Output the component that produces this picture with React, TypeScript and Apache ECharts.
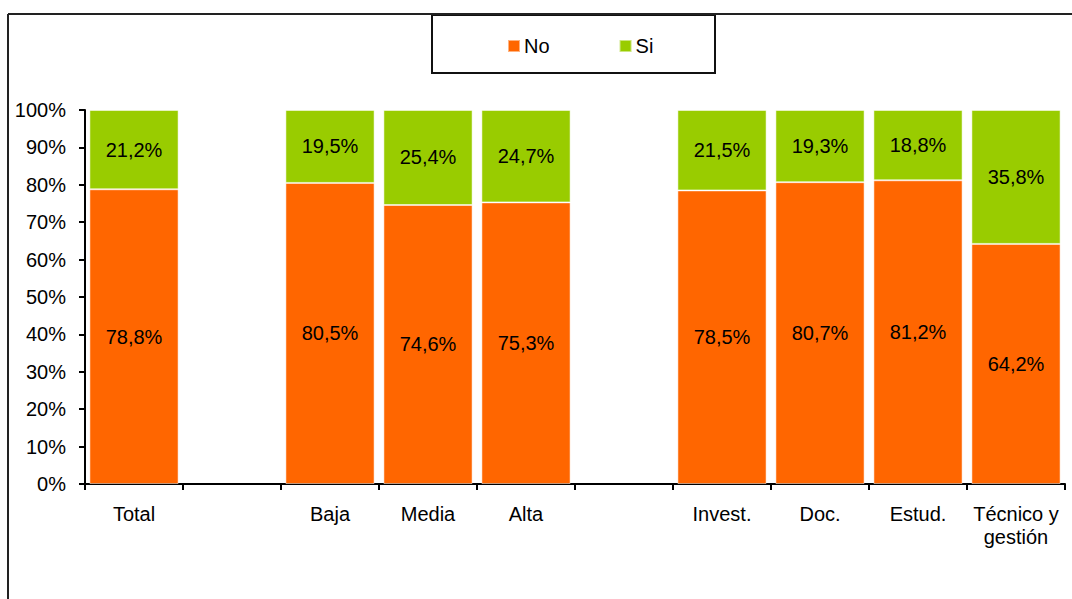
import React, { useEffect, useRef } from "react";
import * as echarts from "echarts";

const categories = ["Total", "", "Baja", "Media", "Alta", "", "Invest.", "Doc.", "Estud.", "Técnico y\ngestión"];
const noValues: (number | null)[] = [78.8, null, 80.5, 74.6, 75.3, null, 78.5, 80.7, 81.2, 64.2];
const siValues: (number | null)[] = [21.2, null, 19.5, 25.4, 24.7, null, 21.5, 19.3, 18.8, 35.8];
const seriesNames = ["No", "Si"];

const FONT = "Liberation Sans, Arial, sans-serif";

export default function App() {
  const ref = useRef<HTMLDivElement>(null);
  useEffect(() => {
    if (!ref.current) return;
    const chart = echarts.init(ref.current, undefined, { renderer: "svg" });
    const label = {
      show: true,
      position: "inside" as const,
      color: "#000",
      fontSize: 20,
      fontFamily: FONT,
      formatter: (p: any) => (p.value == null ? "" : p.value.toFixed(1).replace(".", ",") + "%"),
    };
    chart.setOption({
      animation: false,
      textStyle: { fontFamily: FONT },
      grid: { left: 85, right: 7, top: 110, bottom: 115, containLabel: false },
      legend: {
        data: seriesNames,
        left: 507,
        top: 36,
        padding: 0,
        itemWidth: 12,
        itemHeight: 12,
        itemGap: 69,
        icon: "rect",
        textStyle: { fontSize: 20, color: "#000", fontFamily: FONT, padding: [0, 0, 0, -1] },
      },
      graphic: [
        { type: "line", shape: { x1: 8, y1: 14, x2: 1072, y2: 14 }, style: { stroke: "#222", lineWidth: 2 } },
        { type: "line", shape: { x1: 8, y1: 14, x2: 8, y2: 599 }, style: { stroke: "#222", lineWidth: 2 } },
        { type: "rect", shape: { x: 432, y: 15, width: 283, height: 58 }, style: { fill: "#fff", stroke: "#111", lineWidth: 2 }, z: -1 },
      ],
      xAxis: {
        type: "category",
        data: categories,
        axisLine: { lineStyle: { color: "#000", width: 2 } },
        axisTick: { show: true, length: 6, lineStyle: { color: "#000", width: 2 } },
        axisLabel: { color: "#000", fontSize: 20, margin: 18, lineHeight: 23, interval: 0, fontFamily: FONT },
      },
      yAxis: {
        type: "value",
        min: 0,
        max: 100,
        interval: 10,
        axisLine: { show: true, lineStyle: { color: "#000", width: 2 } },
        axisTick: { show: true, length: 6, lineStyle: { color: "#000", width: 2 } },
        splitLine: { show: false },
        axisLabel: { color: "#000", fontSize: 20, margin: 19, formatter: "{value}%", fontFamily: FONT },
      },
      series: [
        {
          name: seriesNames[0],
          type: "bar",
          stack: "total",
          data: noValues,
          barCategoryGap: "9%",
          itemStyle: { color: "#FF6600", borderColor: "rgba(255,255,255,0.5)", borderWidth: 1 },
          label,
        },
        {
          name: seriesNames[1],
          type: "bar",
          stack: "total",
          data: siValues,
          barCategoryGap: "9%",
          itemStyle: { color: "#99CC00", borderColor: "rgba(255,255,255,0.5)", borderWidth: 1 },
          label,
        },
      ],
    });
    return () => chart.dispose();
  }, []);
  return (
    <div
      ref={ref}
      style={{ position: "fixed", left: 0, top: 0, width: 1072, height: 599, background: "#fff" }}
    />
  );
}
